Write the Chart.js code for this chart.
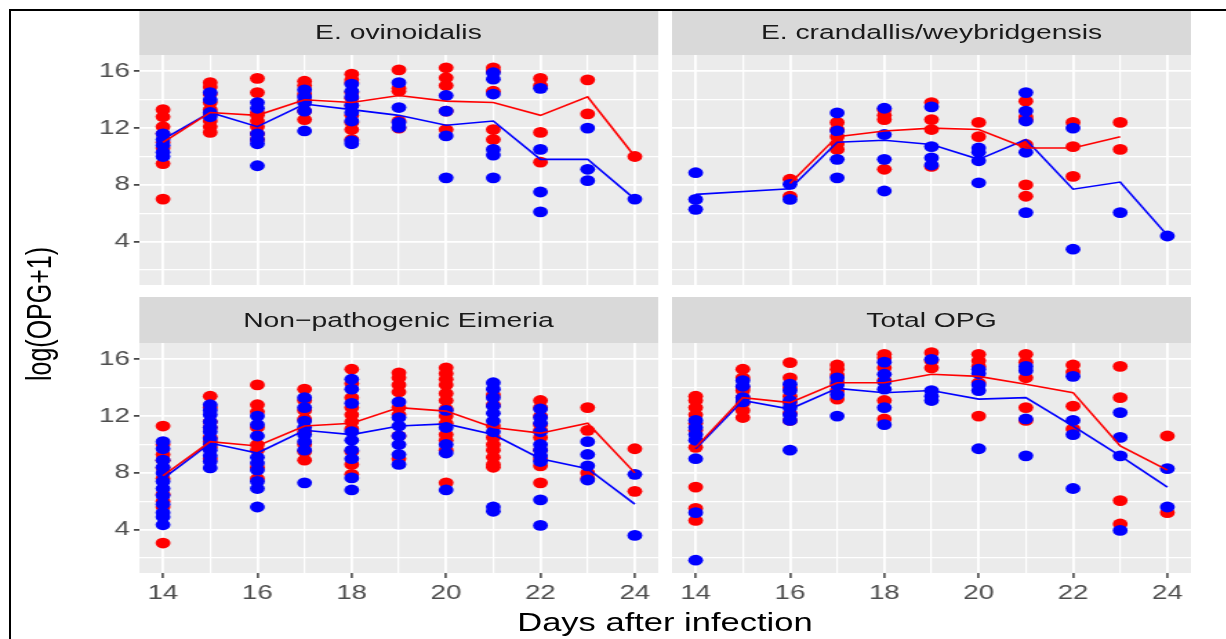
<!DOCTYPE html>
<html>
<head>
<meta charset="utf-8">
<title>log(OPG+1)</title>
<script src="https://cdn.jsdelivr.net/npm/chart.js@4.4.1/dist/chart.umd.min.js"></script>
<style>
  body { margin: 0; width: 1226px; height: 639px; overflow: hidden; position: relative; background: #fff;
         font-family: "Liberation Sans", Arial, sans-serif; }
  #frame { position: absolute; left: 9px; top: 9px; width: 1300px; height: 700px; border: 2px solid #000; z-index: 5; }
  /* everything is laid out narrow and then stretched, like the original picture */
  #figure { position: absolute; left: 0; top: 0; width: 889px; height: 639px; transform: scaleX(1.38); transform-origin: 0 0; }
  .strip { position: absolute; height: 46px; line-height: 46px; background: #d9d9d9; color: #1a1a1a;
           font-size: 20.5px; text-align: center; }
  .panel { position: absolute; }
  #ytitle { position: absolute; left: -122px; top: 299px; width: 300px; height: 30px; line-height: 30px;
            font-size: 25px; text-align: center; transform: rotate(-90deg); }
  #xtitle { position: absolute; left: 100.7px; top: 607px; width: 762.3px; height: 30px; line-height: 30px;
            font-size: 25px; text-align: center; }
</style>
</head>
<body>
<div id="frame"></div>
<div id="figure">
  <div class="strip" id="strip0" style="left:100.7px; top:9px; width:376.1px;"></div>
  <div class="strip" id="strip1" style="left:487px; top:9px; width:376px;"></div>
  <div class="strip" id="strip2" style="left:100.7px; top:297px; width:376.1px;"></div>
  <div class="strip" id="strip3" style="left:487px; top:297px; width:376px;"></div>

  <div class="panel" style="left:60.7px; top:55px; width:416.1px; height:230px;"><canvas id="panel0"></canvas></div>
  <div class="panel" style="left:487px; top:55px; width:376px; height:230px;"><canvas id="panel1"></canvas></div>
  <div class="panel" style="left:60.7px; top:343px; width:416.1px; height:270px;"><canvas id="panel2"></canvas></div>
  <div class="panel" style="left:487px; top:343px; width:376px; height:270px;"><canvas id="panel3"></canvas></div>

  <div id="ytitle">log(OPG+1)</div>
  <div id="xtitle">Days after infection</div>
</div>

<script>
const days = [14, 15, 16, 17, 18, 19, 20, 21, 22, 23, 24];
const xMajorTicks = [14, 16, 18, 20, 22, 24];
const xMinorTicks = [15, 17, 19, 21, 23];
const yMajorTicks = [4, 8, 12, 16];
const yMinorTicks = [2, 6, 10, 14];
const panelTitles = ['E. ovinoidalis', 'E. crandallis/weybridgensis', 'Non\u2212pathogenic Eimeria', 'Total OPG'];

// one list of values per day (14..24)
const ovinoidalisRed = [
  [13.3, 12.8, 12.1, 11.6, 11.0, 10.6, 9.5, 7.0], [15.2, 14.9, 14.4, 13.8, 13.3, 13.0, 12.5, 12.1, 11.7],
  [15.5, 14.5, 13.1, 12.9, 12.5, 12.1, 11.6, 11.2], [15.3, 15.0, 14.4, 13.9, 13.2, 12.6],
  [15.8, 15.4, 15.2, 14.5, 14.1, 13.6, 12.9, 12.4, 11.9, 11.2], [16.1, 14.8, 14.6, 12.5, 12.0],
  [16.25, 15.55, 15.0, 13.2, 11.9], [16.25, 16.0, 14.6, 11.9, 11.2],
  [15.5, 15.0, 11.7, 9.6], [15.4, 13.0], [10.0]
];
const ovinoidalisBlue = [
  [11.6, 11.2, 10.8, 10.3, 10.0], [14.5, 14.0, 13.1, 12.8], [13.8, 13.4, 11.6, 11.2, 10.9, 9.35],
  [14.7, 14.2, 13.8, 13.2, 11.8], [15.1, 14.6, 14.2, 13.6, 13.1, 12.5, 11.1, 10.9], [15.2, 13.45, 12.4, 12.05],
  [14.3, 13.2, 11.45, 8.5], [15.9, 15.45, 14.4, 10.5, 10.1, 8.5], [14.8, 10.5, 7.5, 6.1],
  [12.0, 9.1, 8.3], [7.0]
];
const ovinoidalisRedMean = [11.0, 13.1, 12.9, 14.0, 13.8, 14.3, 13.9, 13.8, 12.9, 14.2, 10.0];
const ovinoidalisBlueMean = [11.2, 13.1, 12.1, 13.7, 13.3, 12.9, 12.2, 12.5, 9.8, 9.8, 7.0];

const crandallisRed = [
  [], [], [8.4, 7.2], [12.4, 11.9, 11.4, 10.9, 10.5], [13.3, 12.9, 12.6, 9.1], [13.8, 12.6, 11.9, 9.3],
  [12.4, 11.4], [13.9, 12.8, 12.6, 10.85, 8.0, 7.2], [12.4, 10.7, 8.6], [12.4, 10.5], []
];
const crandallisBlue = [
  [8.86, 6.98, 6.28], [], [8.04, 6.98], [13.07, 11.8, 9.8, 8.5], [13.4, 11.55, 9.8, 7.57],
  [13.5, 10.7, 9.9, 9.4], [10.6, 10.3, 9.7, 8.15], [14.5, 13.2, 12.5, 10.3, 6.05], [12.0, 3.47],
  [6.05], [4.4]
];
const crandallisRedMean = [null, null, 8.1, 11.4, 11.8, 12.0, 11.9, 10.6, 10.6, 11.4, null];
const crandallisBlueMean = [7.33, null, 7.73, 11.0, 11.15, 10.85, 9.8, 11.2, 7.7, 8.2, 4.45];

const nonPathogenicRed = [
  [11.3, 10.0, 9.3, 8.9, 8.35, 7.6, 6.5, 6.0, 5.6, 3.06], [13.4, 12.6, 11.6, 11.2, 10.5, 10.2, 9.8, 9.0],
  [14.2, 12.8, 12.3, 11.2, 10.0, 9.6, 8.4, 7.6],
  [13.9, 13.1, 12.4, 11.8, 10.9, 10.0, 9.5, 8.9],
  [15.3, 14.3, 13.3, 12.6, 12.1, 11.6, 11.1, 9.5, 8.6, 7.9],
  [15.05, 14.7, 14.2, 13.7, 12.6, 12.1, 10.6, 9.0],
  [15.4, 15.0, 14.6, 14.2, 13.6, 13.1, 12.5, 12.0, 11.5, 10.7, 10.3, 9.6, 7.3],
  [13.5, 12.8, 11.3, 10.5, 10.0, 9.6, 9.1, 8.6, 8.4],
  [13.1, 12.6, 12.0, 11.4, 11.0, 10.5, 9.6, 9.0, 8.5, 7.3], [12.6, 11.0, 8.0, 7.6], [9.7, 6.7]
];
const nonPathogenicBlue = [
  [10.2, 9.7, 8.9, 8.4, 8.0, 7.4, 6.9, 6.4, 5.8, 5.2, 4.9, 4.35],
  [12.8, 12.4, 12.1, 11.6, 11.2, 10.9, 10.4, 10.0, 9.6, 9.2, 8.8, 8.35],
  [12.0, 11.4, 10.6, 9.1, 8.7, 8.2, 7.4, 6.9, 5.6],
  [13.3, 12.6, 11.65, 11.2, 10.7, 10.2, 9.6, 7.3],
  [14.6, 13.9, 12.9, 10.9, 10.3, 9.6, 9.0, 7.65, 6.8],
  [13.0, 11.9, 11.3, 10.6, 10.0, 9.3, 8.6],
  [12.4, 11.2, 10.0, 9.4, 6.8],
  [14.35, 13.9, 13.3, 12.7, 12.2, 11.65, 10.9, 5.6, 5.3],
  [12.5, 11.9, 11.5, 10.9, 10.0, 9.6, 9.2, 8.8, 6.1, 4.3], [10.2, 9.3, 8.5, 7.5], [7.9, 3.6]
];
const nonPathogenicRedMean = [7.8, 10.2, 9.9, 11.3, 11.5, 12.6, 12.35, 11.2, 10.8, 11.5, 8.0];
const nonPathogenicBlueMean = [7.6, 10.1, 9.4, 11.0, 10.7, 11.3, 11.45, 10.7, 9.0, 8.3, 5.8];

const totalOpgRed = [
  [13.4, 13.1, 12.6, 12.1, 11.5, 11.0, 9.8, 7.0, 5.5, 4.65], [15.3, 14.7, 14.0, 13.8, 13.3, 12.9, 12.4, 11.9],
  [15.77, 14.7, 14.0, 13.4, 12.95, 12.2, 11.7], [15.6, 15.3, 14.9, 14.4, 13.8, 13.2],
  [16.35, 16.1, 15.4, 14.5, 13.1, 11.8], [16.47, 15.9, 15.4], [16.35, 15.9, 15.5, 14.35, 12.0],
  [16.35, 15.8, 14.7, 12.6, 11.7], [15.6, 15.1, 12.7, 11.1], [15.5, 13.3, 6.05, 4.4], [10.6, 5.2]
];
const totalOpgBlue = [
  [11.7, 11.2, 10.7, 10.3, 9.0, 5.2, 1.85], [14.5, 14.1, 13.3, 13.0], [14.25, 13.8, 13.1, 12.6, 12.1, 11.7, 9.6],
  [14.7, 14.2, 13.5, 12.0], [15.8, 14.95, 14.4, 13.9, 12.6, 11.4], [16.0, 13.8, 13.4, 13.1],
  [15.3, 15.0, 14.2, 13.8, 9.7], [15.5, 15.2, 11.8, 9.2], [14.8, 11.7, 10.7, 6.9],
  [12.25, 10.5, 9.2, 3.95], [8.3, 5.6]
];
const totalOpgRedMean = [9.8, 13.3, 12.95, 14.35, 14.35, 14.95, 14.8, 14.25, 13.65, 9.9, 8.2];
const totalOpgBlueMean = [9.7, 13.1, 12.5, 13.95, 13.65, 13.8, 13.2, 13.3, 11.3, 9.2, 7.0];

document.addEventListener('DOMContentLoaded', () => {

    const fontFamily = '"Liberation Sans", Arial, sans-serif';

    panelTitles.forEach((t, i) => {
        document.getElementById('strip' + i).textContent = t;
    });

    function toPoints(perDay) {
        return days.flatMap((d, i) => perDay[i].map(v => ({ x: d, y: v })));
    }

    function toLine(means) {
        return days.map((d, i) => ({ x: d, y: means[i] }));
    }

    // no extra room round the axes: the panel must fill its box exactly
    function noPadding(s) {
        s.paddingTop = 0;
        s.paddingBottom = 0;
        s.paddingLeft = 0;
        s.paddingRight = 0;
    }

    const panelBg = {
        id: 'panelBg',
        beforeDraw(chart) {
            const { ctx, chartArea: a } = chart;
            ctx.save();
            ctx.fillStyle = '#ebebeb';
            ctx.fillRect(a.left, a.top, a.right - a.left, a.bottom - a.top);
            ctx.restore();
        }
    };

    function makePanel(id, red, blue, redMean, blueMean, showX, showY) {
        const lineStyle = { showLine: true, pointRadius: 0, borderWidth: 1.6, spanGaps: true, fill: false, tension: 0 };
        const pointStyle = { pointRadius: 5.4, pointBorderWidth: 0, pointHoverRadius: 5.4 };

        return new Chart(document.getElementById(id), {
            type: 'scatter',
            data: {
                datasets: [
                    { ...lineStyle, data: toLine(redMean), borderColor: '#ff0000' },
                    { ...lineStyle, data: toLine(blueMean), borderColor: '#0000ff' },
                    { ...pointStyle, data: toPoints(blue), backgroundColor: '#0000ff' },
                    { ...pointStyle, data: toPoints(red), backgroundColor: '#ff0000' }
                ]
            },
            options: {
                responsive: true,
                maintainAspectRatio: false,
                animation: false,
                layout: { padding: 0, autoPadding: false },
                plugins: { legend: { display: false }, tooltip: { enabled: false } },
                scales: {
                    x: {
                        type: 'linear', min: 13.5, max: 24.5, bounds: 'data',
                        afterBuildTicks: s => {
                            s.ticks = [...xMajorTicks, ...xMinorTicks].sort((a, b) => a - b).map(v => ({ value: v }));
                        },
                        afterFit: s => { s.height = showX ? 40 : 0; noPadding(s); },
                        border: { display: false },
                        grid: {
                            color: '#ffffff',
                            lineWidth: c => (c.tick && xMajorTicks.includes(c.tick.value)) ? 1.8 : 1.2,
                            drawTicks: showX,
                            tickLength: 5,
                            tickWidth: 1.4,
                            tickColor: c => (c.tick && xMajorTicks.includes(c.tick.value)) ? '#333333' : 'rgba(0,0,0,0)'
                        },
                        ticks: {
                            display: showX, padding: 3, autoSkip: false, maxRotation: 0,
                            color: '#4d4d4d', font: { family: fontFamily, size: 20 },
                            callback: v => xMajorTicks.includes(v) ? String(v) : ''
                        }
                    },
                    y: {
                        type: 'linear', min: 0.95, max: 17.15, bounds: 'data',
                        afterBuildTicks: s => {
                            s.ticks = [...yMajorTicks, ...yMinorTicks].sort((a, b) => a - b).map(v => ({ value: v }));
                        },
                        afterFit: s => { s.width = showY ? 40 : 0; noPadding(s); },
                        border: { display: false },
                        grid: {
                            color: '#ffffff',
                            lineWidth: c => (c.tick && yMajorTicks.includes(c.tick.value)) ? 1.8 : 1.2,
                            drawTicks: showY,
                            tickLength: 4,
                            tickWidth: 1.6,
                            tickColor: c => (c.tick && yMajorTicks.includes(c.tick.value)) ? '#333333' : 'rgba(0,0,0,0)'
                        },
                        ticks: {
                            display: showY, padding: 3, autoSkip: false,
                            color: '#4d4d4d', font: { family: fontFamily, size: 20 },
                            callback: v => yMajorTicks.includes(v) ? String(v) : ''
                        }
                    }
                }
            },
            plugins: [panelBg]
        });
    }

    makePanel('panel0', ovinoidalisRed, ovinoidalisBlue, ovinoidalisRedMean, ovinoidalisBlueMean, false, true);
    makePanel('panel1', crandallisRed, crandallisBlue, crandallisRedMean, crandallisBlueMean, false, false);
    makePanel('panel2', nonPathogenicRed, nonPathogenicBlue, nonPathogenicRedMean, nonPathogenicBlueMean, true, true);
    makePanel('panel3', totalOpgRed, totalOpgBlue, totalOpgRedMean, totalOpgBlueMean, true, false);

});
</script>
</body>
</html>
